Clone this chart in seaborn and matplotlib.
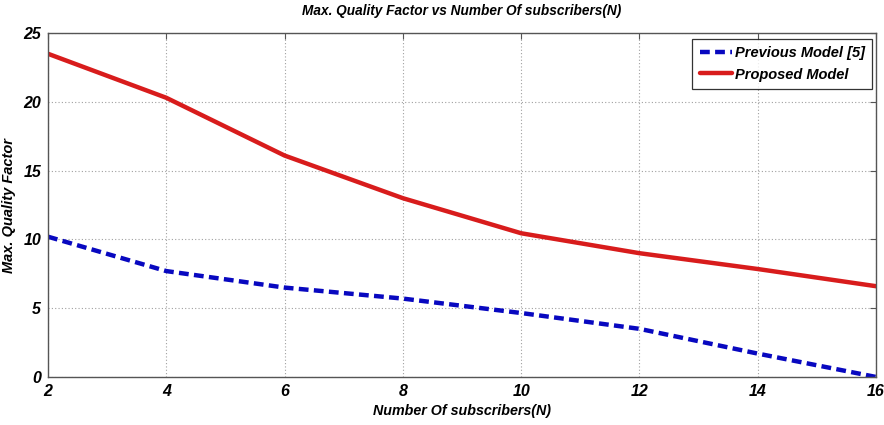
import matplotlib
matplotlib.use("Agg")
import matplotlib.pyplot as plt
import seaborn as sns
import pandas as pd

# Number of subscribers
subscribers = [2, 4, 6, 8, 10, 12, 14, 16]
# Max. quality factor for each model
previous_model = [10.2, 7.7, 6.5, 5.7, 4.65, 3.5, 1.7, 0.0]
proposed_model = [23.5, 20.3, 16.1, 13.0, 10.45, 9.0, 7.85, 6.6]
x_ticks = [2, 4, 6, 8, 10, 12, 14, 16]
y_ticks = [0, 5, 10, 15, 20, 25]

sns.set_style("white")
plt.rcParams["font.family"] = ["Liberation Sans", "DejaVu Sans"]
plt.rcParams["text.color"] = "black"
plt.rcParams["axes.labelcolor"] = "black"

df = pd.DataFrame({
    "N": subscribers * 2,
    "Q": previous_model + proposed_model,
    "Model": ["Previous Model [5]"] * len(subscribers) + ["Proposed Model"] * len(subscribers),
})

fig = plt.figure(figsize=(8.84, 4.25), dpi=100)
ax = fig.add_axes([0.0543, 0.113, 0.9367, 0.809])

sns.lineplot(data=df, x="N", y="Q", hue="Model", style="Model",
             palette={"Previous Model [5]": "#0808c0", "Proposed Model": "#d81c1c"},
             dashes={"Previous Model [5]": (2.2, 1.2), "Proposed Model": ""},
             linewidth=3.2, ax=ax)

ax.set_xlim(2, 16)
ax.set_ylim(0, 25)
ax.set_xticks(x_ticks)
ax.set_yticks(y_ticks)
ax.grid(True, color="#a0a0a0", linestyle=(0, (1, 2)), linewidth=0.8)
for s in ax.spines.values():
    s.set_color("#555555")
    s.set_linewidth(1.0)
ax.tick_params(direction="in", length=4, top=True, right=True, colors="#555555",
               labelcolor="black", pad=5)
for lbl in ax.get_xticklabels() + ax.get_yticklabels():
    lbl.set_fontsize(11.5)
    lbl.set_fontweight("bold")
    lbl.set_fontstyle("italic")

ax.set_title("Max. Quality Factor vs Number Of subscribers(N)", pad=13,
             fontsize=9.8, fontweight="bold", fontstyle="italic")
ax.set_xlabel("Number Of subscribers(N)", labelpad=4,
              fontsize=10.3, fontweight="bold", fontstyle="italic")
ax.set_ylabel("Max. Quality Factor", labelpad=5,
              fontsize=10.5, fontweight="bold", fontstyle="italic")

leg = ax.legend(loc="upper right", bbox_to_anchor=(0.995, 0.983), frameon=True,
                fancybox=False, handlelength=2.2, handletextpad=0.2, borderpad=0.5,
                labelspacing=0.5, borderaxespad=0.0,
                prop=dict(size=10.5, weight="bold", style="italic"))
leg.get_frame().set_edgecolor("black")
leg.get_frame().set_linewidth(0.9)

fig.savefig("out.png", dpi=100)
